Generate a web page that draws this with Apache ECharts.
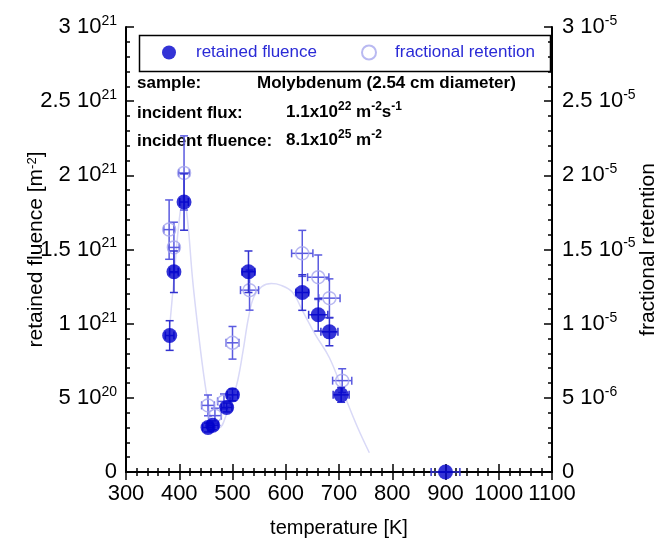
<!DOCTYPE html>
<html>
<head>
<meta charset="utf-8">
<script src="https://cdn.jsdelivr.net/npm/echarts@6/dist/echarts.min.js"></script>
<style>html,body{margin:0;padding:0;background:#fff}#c{width:667px;height:543px}</style>
</head>
<body>
<div id="c"></div>
<script>
// ---- data ----
const fluenceT    = [382, 390, 409, 454, 463, 489, 500, 530, 631, 661, 682, 704, 900];
const fluenceVal  = [9.2e20, 1.35e21, 1.82e21, 3.0e20, 3.15e20, 4.35e20, 5.2e20, 1.35e21, 1.21e21, 1.06e21, 9.45e20, 5.2e20, 0];
const fluenceTErr = [8, 8, 8, 10, 10, 10, 10, 12, 12, 18, 16, 15, 27];
const fluenceErr  = [1.0e20, 1.4e20, 1.9e20, 3e19, 3e19, 3e19, 4e19, 1.4e20, 1.2e20, 1.1e20, 9.4e19, 5e19, 0];

const fracT    = [381, 390, 409, 454, 467, 484, 500, 532, 631, 661, 682, 706];
const fracVal  = [1.634e-5, 1.514e-5, 2.016e-5, 4.49e-6, 3.8e-6, 4.76e-6, 8.71e-6, 1.226e-5, 1.474e-5, 1.313e-5, 1.172e-5, 6.16e-6];
const fracTErr = [10, 10, 10, 12, 12, 12, 12, 17, 20, 20, 20, 18];
const fracErr  = [2.0e-6, 1.7e-6, 2.5e-6, 7e-7, 5e-7, 5e-7, 1.1e-6, 1.35e-6, 1.55e-6, 1.5e-6, 1.3e-6, 8e-7];

const curveT   = [380, 390, 400, 408, 415, 425, 435, 445, 455, 465, 475, 490, 500, 510, 520, 530, 540, 555, 573, 590, 613, 631, 655, 682, 710, 735, 757];
const curveVal = [0.90e-5, 1.30e-5, 1.70e-5, 1.86e-5, 1.72e-5, 1.30e-5, 0.97e-5, 0.68e-5, 0.45e-5, 0.31e-5, 0.30e-5, 0.40e-5, 0.49e-5, 0.62e-5, 0.82e-5, 1.04e-5, 1.18e-5, 1.25e-5, 1.27e-5, 1.26e-5, 1.21e-5, 1.09e-5, 0.93e-5, 0.77e-5, 0.52e-5, 0.30e-5, 0.13e-5];

const xTicks = [300, 400, 500, 600, 700, 800, 900, 1000, 1100];
const labels = {
  x: 'temperature [K]',
  yLeft: 'retained fluence [m{s|-2}]',
  yRight: 'fractional retention',
  s1: 'retained fluence',
  s2: 'fractional retention'
};

// ---- helpers ----
const FONT = '"Liberation Sans", Arial, Helvetica, sans-serif';
function sci(v) {
  if (Math.abs(v) < 1e-40) return '{b|0}';
  let e = Math.floor(Math.log10(v) + 1e-9);
  let m = Math.round(v / Math.pow(10, e) * 10) / 10;
  if (m >= 10) { m = m / 10; e++; }
  return '{b|' + m + ' 10}{s|' + e + '}';
}
const tickRich = {
  b: { fontSize: 22, fontFamily: FONT, color: '#000', lineHeight: 26 },
  s: { fontSize: 14, fontFamily: FONT, color: '#000', verticalAlign: 'top', lineHeight: 15 }
};

function errRender(capLen, color) {
  return function (params, api) {
    const x = api.value(0), y = api.value(1), ex = api.value(2), ey = api.value(3);
    const c = api.coord([x, y]);
    const t = api.coord([x, y + ey]);
    const b = api.coord([x, y - ey]);
    const l = api.coord([x - ex, y]);
    const r = api.coord([x + ex, y]);
    const st = { stroke: color, lineWidth: 1.5 };
    const ch = [];
    if (ey > 0) {
      ch.push({ type: 'line', shape: { x1: c[0], y1: t[1], x2: c[0], y2: b[1] }, style: st });
      ch.push({ type: 'line', shape: { x1: c[0] - capLen, y1: t[1], x2: c[0] + capLen, y2: t[1] }, style: st });
      ch.push({ type: 'line', shape: { x1: c[0] - capLen, y1: b[1], x2: c[0] + capLen, y2: b[1] }, style: st });
    }
    if (ex > 0) {
      ch.push({ type: 'line', shape: { x1: l[0], y1: c[1], x2: r[0], y2: c[1] }, style: st });
      ch.push({ type: 'line', shape: { x1: l[0], y1: c[1] - capLen, x2: l[0], y2: c[1] + capLen }, style: st });
      ch.push({ type: 'line', shape: { x1: r[0], y1: c[1] - capLen, x2: r[0], y2: c[1] + capLen }, style: st });
    }
    return { type: 'group', children: ch };
  };
}

const fluenceData = fluenceT.map((t, i) => [t, fluenceVal[i]]);
const fluenceErrData = fluenceT.map((t, i) => [t, fluenceVal[i], fluenceTErr[i], fluenceErr[i]]);
const fracData = fracT.map((t, i) => [t, fracVal[i]]);
const fracErrData = fracT.map((t, i) => [t, fracVal[i], fracTErr[i], fracErr[i]]);
const curveData = curveT.map((t, i) => [t, curveVal[i]]);

const axisLine = { show: true, lineStyle: { color: '#000', width: 2 } };
const axisTick = { show: true, inside: true, length: 8, lineStyle: { color: '#000', width: 1.5 } };
const minorTick = { show: true, splitNumber: 5, length: 4, lineStyle: { color: '#000', width: 1.5 } };
const annFont = 'bold 17px ' + FONT;
const annRich = {
  b: { font: annFont, fill: '#000', lineHeight: 22 },
  s: { font: 'bold 12px ' + FONT, fill: '#000', verticalAlign: 'top', lineHeight: 12 }
};

const chart = echarts.init(document.getElementById('c'), null, { renderer: 'canvas' });
chart.setOption({
  animation: false,
  backgroundColor: '#fff',
  textStyle: { fontFamily: FONT },
  grid: { left: 126, top: 27, width: 427, height: 448, containLabel: false },
  xAxis: [
    {
      type: 'value', position: 'bottom', min: 300, max: 1100, interval: 100,
      axisLine, axisTick, minorTick, splitLine: { show: false },
      axisLabel: { fontSize: 22, color: '#000', margin: 11, fontFamily: FONT,
        formatter: v => (xTicks.indexOf(v) >= 0 ? String(v) : '') },
      name: labels.x, nameLocation: 'middle', nameGap: 46, nameMoveOverlap: false,
      nameTextStyle: { fontSize: 20, color: '#000', fontFamily: FONT }
    },
    {
      type: 'value', position: 'top', min: 300, max: 1100, interval: 100,
      axisLine, axisTick, minorTick, splitLine: { show: false },
      axisLabel: { show: false }
    }
  ],
  yAxis: [
    {
      type: 'value', position: 'left', min: 0, max: 3e21, interval: 5e20,
      axisLine, axisTick, minorTick, splitLine: { show: false },
      axisLabel: { margin: 9, formatter: sci, rich: tickRich },
      name: labels.yLeft, nameLocation: 'middle', nameGap: 79, nameRotate: 90, nameMoveOverlap: false,
      nameTextStyle: { fontSize: 21, color: '#000', fontFamily: FONT,
        rich: { s: { fontSize: 13, fontFamily: FONT, color: '#000', verticalAlign: 'top', lineHeight: 14 } } }
    },
    {
      type: 'value', position: 'right', min: 0, max: 3e-5, interval: 5e-6,
      axisLine, axisTick, minorTick, splitLine: { show: false },
      axisLabel: { margin: 10, formatter: sci, rich: tickRich },
      name: labels.yRight, nameLocation: 'middle', nameGap: 86, nameRotate: 90, nameMoveOverlap: false,
      nameTextStyle: { fontSize: 21, color: '#000', fontFamily: FONT }
    }
  ],
  legend: [
    {
      data: [labels.s1], left: 162, top: 44, padding: 0, itemWidth: 14, itemHeight: 14,
      textStyle: { fontSize: 17, color: '#2a2ad6', fontFamily: FONT, padding: [0, 0, 0, 15] }
    },
    {
      data: [labels.s2], left: 361, top: 44, padding: 0, itemWidth: 14, itemHeight: 14,
      textStyle: { fontSize: 17, color: '#2a2ad6', fontFamily: FONT, padding: [0, 0, 0, 14] }
    }
  ],
  graphic: [
    { type: 'rect', left: 137, top: 33, shape: { width: 411, height: 36 }, style: { fill: 'none', stroke: '#000', lineWidth: 1.5 }, z: 0 },
    { type: 'text', left: 137, top: 75, style: { text: 'sample:', font: annFont, fill: '#000' } },
    { type: 'text', left: 257, top: 75, style: { text: 'Molybdenum (2.54 cm diameter)', font: annFont, fill: '#000' } },
    { type: 'text', left: 137, top: 105, style: { text: 'incident flux:', font: annFont, fill: '#000' } },
    { type: 'text', left: 286, top: 101, style: { text: '{b|1.1x10}{s|22}{b| m}{s|-2}{b|s}{s|-1}', rich: annRich } },
    { type: 'text', left: 137, top: 133, style: { text: 'incident fluence:', font: annFont, fill: '#000' } },
    { type: 'text', left: 286, top: 129, style: { text: '{b|8.1x10}{s|25}{b| m}{s|-2}', rich: annRich } }
  ],
  series: [
    {
      type: 'line', name: 'fit', xAxisIndex: 0, yAxisIndex: 1, data: curveData,
      smooth: 0.4, showSymbol: false, silent: true,
      lineStyle: { color: '#d9d9f7', width: 1.5 }, z: 1
    },
    {
      type: 'custom', name: 'fracErr', xAxisIndex: 0, yAxisIndex: 1, data: fracErrData,
      encode: { x: 0, y: 1 }, renderItem: errRender(4, '#5a5ae0'), silent: true, z: 2
    },
    {
      type: 'scatter', name: labels.s2, xAxisIndex: 0, yAxisIndex: 1, data: fracData,
      symbol: 'circle', symbolSize: 13,
      itemStyle: { color: 'rgba(255,255,255,0)', borderColor: '#a8a8ee', borderWidth: 1.5 }, z: 3
    },
    {
      type: 'custom', name: 'fluenceErr', xAxisIndex: 0, yAxisIndex: 0, data: fluenceErrData,
      encode: { x: 0, y: 1 }, renderItem: errRender(4, '#3232d0'), silent: true, z: 4
    },
    {
      type: 'scatter', name: labels.s1, xAxisIndex: 0, yAxisIndex: 0, data: fluenceData,
      symbol: 'circle', symbolSize: 15,
      itemStyle: { color: '#0000cc' }, z: 5
    }
  ]
});
</script>
</body>
</html>
